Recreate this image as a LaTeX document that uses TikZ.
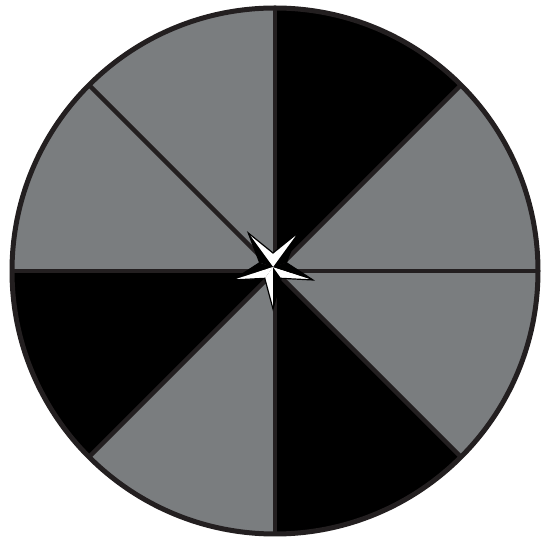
\documentclass[tikz,border=0pt]{standalone}
\definecolor{wgray}{RGB}{122,125,127}
\definecolor{wline}{RGB}{35,31,32}
\begin{document}
\begin{tikzpicture}[x=1pt,y=1pt,
  sector/.style={draw=none},
  spoke/.style={draw=wline,line width=4.5pt},
  rim/.style={draw=wline,line width=5pt},
  lit/.style={fill=white},
  shade/.style={fill=black}]
\useasboundingbox (0,0) rectangle (544,538);
\coordinate (C) at (275,267);
\coordinate (S) at (273,271);
% sectors
\foreach \a/\col in {0/wgray,45/black,90/wgray,135/wgray,180/black,225/wgray,270/black,315/wgray}{
  \fill[\col] (C) -- ++(\a:263) arc[start angle=\a,end angle=\a+45,radius=263] -- cycle;
}
% spokes
\foreach \a in {0,45,...,315}{
  \draw[spoke] (C) -- ++(\a:263);
}
% rim
\draw[rim] (C) circle[radius=263];
% star
\begin{scope}[shift={(S)}]
  \foreach \a/\cw/\ccw in {-90/white/black,-18/white/black,54/black/white,126/white/black,198/black/white}{
    \fill[\cw] (0,0) -- (\a:42) -- (\a-36:14) -- cycle;
    \fill[\ccw] (0,0) -- (\a:42) -- (\a+36:14) -- cycle;
  }
  \draw[black,line width=1.2pt,line join=miter]
    (-90:42) -- (-54:14) -- (-18:42) -- (18:14) -- (54:42) -- (90:14)
    -- (126:42) -- (162:14) -- (198:42) -- (234:14) -- cycle;
\end{scope}
\end{tikzpicture}
\end{document}
